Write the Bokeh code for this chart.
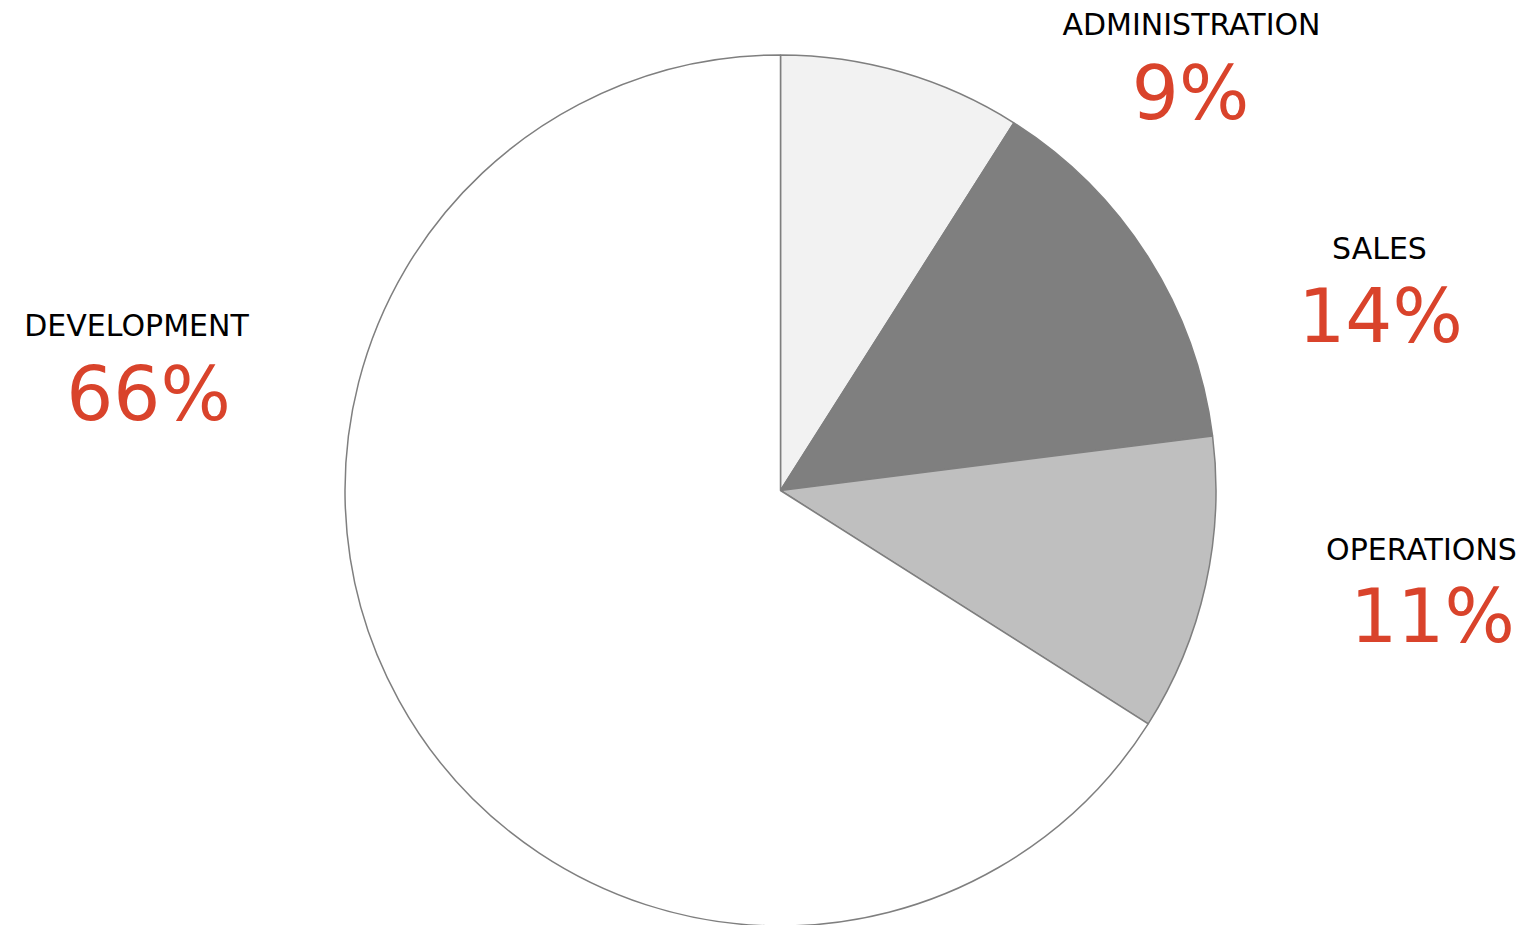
import math
from bokeh.plotting import figure
from bokeh.models import Range1d, ColumnDataSource
from bokeh.core.properties import value
from bokeh.embed import file_html
from bokeh.resources import INLINE

# ---- data ----
categories = ["ADMINISTRATION", "SALES", "OPERATIONS", "DEVELOPMENT"]
shares = [9, 14, 11, 66]
percent_labels = ["9%", "14%", "11%", "66%"]

# ---- style / layout ----
colors = ["#f2f2f2", "#7f7f7f", "#bfbfbf", "#ffffff"]
W, H = 1536, 925
cx, cy, r = 780, 435, 435.5
name_pos = [(1191, 901), (1379, 677), (1421, 376), (136, 600)]
pct_pos = [(1190, 833), (1380, 610), (1432, 310), (148, 532)]
red = "#d9432b"
font = "DejaVu Sans"

total = sum(shares)
starts, ends = [], []
acc = 0
for s in shares:
    starts.append(math.pi / 2 - 2 * math.pi * acc / total)
    acc += s
    ends.append(math.pi / 2 - 2 * math.pi * acc / total)

src = ColumnDataSource(dict(cat=categories, start=starts, end=ends, color=colors))

p = figure(width=W, height=H, output_backend="svg", toolbar_location=None,
           x_range=Range1d(0, W), y_range=Range1d(0, H), min_border=0)
p.axis.visible = False
p.grid.visible = False
p.outline_line_color = None
p.background_fill_color = "white"

p.wedge(x=cx, y=cy, radius=r, start_angle="start", end_angle="end", direction="clock",
        fill_color="color", line_color="#7f7f7f", line_width=1.5, source=src)

lsrc = ColumnDataSource(dict(
    nx=[q[0] for q in name_pos], ny=[q[1] for q in name_pos],
    px=[q[0] for q in pct_pos], py=[q[1] for q in pct_pos],
    name=categories, pct=percent_labels))

p.text(x="nx", y="ny", text="name", source=lsrc, text_align="center", text_baseline="middle",
       text_font=value(font), text_font_size="30px", text_color="#000000")
p.text(x="px", y="py", text="pct", source=lsrc, text_align="center", text_baseline="middle",
       text_font=value(font), text_font_size="74px", text_color=red)

open("out.html", "w").write(file_html(p, INLINE))
